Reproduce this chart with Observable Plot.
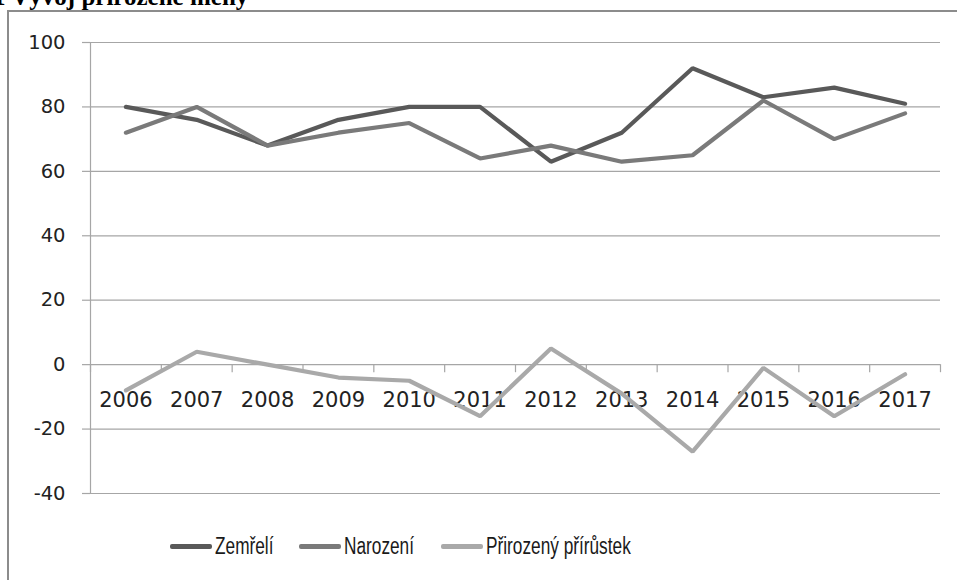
<!DOCTYPE html>
<html>
<head>
<meta charset="utf-8">
<script src="https://cdn.jsdelivr.net/npm/d3@7"></script>
<script src="https://cdn.jsdelivr.net/npm/@observablehq/plot@0.6"></script>
<style>
  html, body { margin: 0; padding: 0; background: #fff; }
  #wrap { position: relative; width: 957px; height: 580px; overflow: hidden; background: #fff; }
  #frame { position: absolute; left: 7px; top: 10px; width: 1000px; height: 620px;
           border-left: 2px solid #8c8c8c; border-top: 2px solid #8c8c8c; }
  #title { position: absolute; left: -7px; top: -17px; font-family: "Liberation Serif", serif;
           font-weight: bold; font-size: 25px; color: #000; white-space: nowrap; }
  #chart { position: absolute; left: 0; top: 0; }
  #legend { position: absolute; left: 170px; top: 533px; display: flex; gap: 26px; align-items: center;
            font-family: "Liberation Sans", sans-serif; font-size: 23px; color: #1a1a1a; }
  .item { display: flex; align-items: center; }
  .sw { width: 42px; height: 4.5px; border-radius: 2px; margin-right: 3px; }
  .lbl { display: inline-block; transform: scaleX(0.75); transform-origin: left center; white-space: nowrap; }
</style>
</head>
<body>
<div id="wrap">
  <div id="frame"></div>
  <div id="title">1 Vývoj přirozené měny</div>
  <div id="chart"></div>
  <div id="legend"></div>
</div>
<script>
const years = [2006, 2007, 2008, 2009, 2010, 2011, 2012, 2013, 2014, 2015, 2016, 2017];
const zemreli = [80, 76, 68, 76, 80, 80, 63, 72, 92, 83, 86, 81];
const narozeni = [72, 80, 68, 72, 75, 64, 68, 63, 65, 82, 70, 78];
const prirustek = [-8, 4, 0, -4, -5, -16, 5, -9, -27, -1, -16, -3];
const seriesNames = ["Zemřelí", "Narození", "Přirozený přírůstek"];
const seriesColors = ["#595959", "#7a7a7a", "#a9a9a9"];
const yTicks = [-40, -20, 0, 20, 40, 60, 80, 100];

const valuesBySeries = [zemreli, narozeni, prirustek];
const data = [];
valuesBySeries.forEach((vals, s) => vals.forEach((v, i) => data.push({year: years[i], value: v, series: seriesNames[s]})));

const boundaries = years.map(y => y - 0.5).concat([years[years.length - 1] + 0.5]);
const xDomain = [boundaries[0], boundaries[boundaries.length - 1]];

const chart = Plot.plot({
  width: 957,
  height: 510,
  marginLeft: 90,
  marginRight: 17,
  marginTop: 42,
  marginBottom: 17,
  style: { fontFamily: "DejaVu Sans, sans-serif", background: "transparent" },
  x: { domain: xDomain, axis: null },
  y: { domain: [-40, 100], ticks: yTicks },
  color: { domain: seriesNames, range: seriesColors },
  marks: [
    Plot.ruleY(yTicks, { stroke: "#a6a6a6", strokeWidth: 1.2 }),
    Plot.axisY({ ticks: yTicks, tickSize: 8, tickPadding: 17, fontSize: 19.5, stroke: "#a6a6a6", strokeWidth: 1.2, color: "#222", label: null, tickFormat: d => String(d) }),
    Plot.ruleX([xDomain[0]], { y1: -40, y2: 100, stroke: "#a6a6a6", strokeWidth: 1.2 }),
    Plot.ruleX(boundaries, { y1: 0, y2: -2.5, stroke: "#a6a6a6", strokeWidth: 1.2 }),
    Plot.text(years, { x: d => d, y: 0, text: d => String(d), dy: 36, fontSize: 21, fill: "#222" }),
    Plot.line(data, { x: "year", y: "value", z: "series", stroke: "series", strokeWidth: 4.2, strokeLinejoin: "miter", strokeLinecap: "round" })
  ]
});
document.getElementById("chart").appendChild(chart);

const legend = document.getElementById("legend");
seriesNames.forEach((name, i) => {
  const item = document.createElement("div");
  item.className = "item";
  const sw = document.createElement("div");
  sw.className = "sw";
  sw.style.background = seriesColors[i];
  const label = document.createElement("span");
  label.className = "lbl";
  label.textContent = name;
  item.appendChild(sw);
  item.appendChild(label);
  legend.appendChild(item);
});
legend.querySelectorAll(".lbl").forEach(l => {
  l.style.marginRight = (-0.25 * l.offsetWidth) + "px";
});
</script>
</body>
</html>
